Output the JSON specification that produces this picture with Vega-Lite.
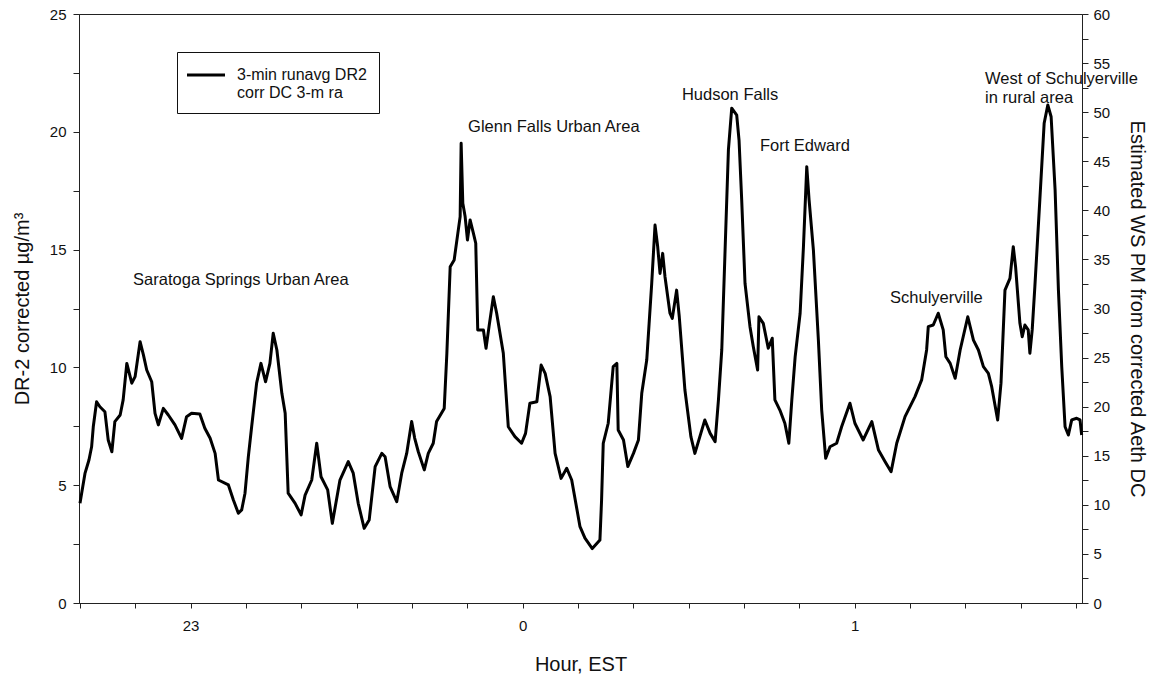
{
  "$schema": "https://vega.github.io/schema/vega-lite/v6.json",
  "width": 1003,
  "height": 589,
  "autosize": "none",
  "padding": {"left": 79, "top": 14, "right": 74, "bottom": 72},
  "background": "white",
  "config": {
    "font": "Liberation Sans",
    "view": {"stroke": "#222", "strokeWidth": 1},
    "axis": {
      "grid": false,
      "domainColor": "#222",
      "tickColor": "#222",
      "labelColor": "#111",
      "titleColor": "#111",
      "labelFont": "Liberation Sans",
      "titleFont": "Liberation Sans",
      "labelFontSize": 15,
      "titleFontSize": 20,
      "titleFontWeight": "normal",
      "labelOverlap": false,
      "labelFlush": false
    }
  },
  "resolve": {"scale": {"y": "independent"}},
  "layer": [
    {
      "layer": [
        {
          "data": {
            "name": "trace",
            "values": [
              {"hour": 22.667, "dr2": 4.23}, {"hour": 22.672, "dr2": 4.66}, {"hour": 22.682, "dr2": 5.5}, {"hour": 22.694, "dr2": 6.07},
              {"hour": 22.702, "dr2": 6.63}, {"hour": 22.707, "dr2": 7.48}, {"hour": 22.717, "dr2": 8.54}, {"hour": 22.727, "dr2": 8.33},
              {"hour": 22.742, "dr2": 8.12}, {"hour": 22.752, "dr2": 6.92}, {"hour": 22.763, "dr2": 6.42}, {"hour": 22.772, "dr2": 7.7},
              {"hour": 22.788, "dr2": 7.98}, {"hour": 22.797, "dr2": 8.62}, {"hour": 22.808, "dr2": 10.17}, {"hour": 22.823, "dr2": 9.33},
              {"hour": 22.833, "dr2": 9.61}, {"hour": 22.848, "dr2": 11.09}, {"hour": 22.858, "dr2": 10.53}, {"hour": 22.868, "dr2": 9.89},
              {"hour": 22.883, "dr2": 9.39}, {"hour": 22.893, "dr2": 8.05}, {"hour": 22.903, "dr2": 7.56}, {"hour": 22.918, "dr2": 8.26},
              {"hour": 22.933, "dr2": 7.98}, {"hour": 22.953, "dr2": 7.56}, {"hour": 22.973, "dr2": 6.99}, {"hour": 22.988, "dr2": 7.91},
              {"hour": 23.003, "dr2": 8.05}, {"hour": 23.028, "dr2": 8.02}, {"hour": 23.043, "dr2": 7.42}, {"hour": 23.059, "dr2": 6.99},
              {"hour": 23.074, "dr2": 6.35}, {"hour": 23.084, "dr2": 5.22}, {"hour": 23.114, "dr2": 5.01}, {"hour": 23.129, "dr2": 4.37},
              {"hour": 23.144, "dr2": 3.81}, {"hour": 23.154, "dr2": 3.95}, {"hour": 23.164, "dr2": 4.66}, {"hour": 23.174, "dr2": 6.2},
              {"hour": 23.184, "dr2": 7.48}, {"hour": 23.199, "dr2": 9.33}, {"hour": 23.212, "dr2": 10.17}, {"hour": 23.226, "dr2": 9.39},
              {"hour": 23.239, "dr2": 10.17}, {"hour": 23.249, "dr2": 11.45}, {"hour": 23.26, "dr2": 10.74}, {"hour": 23.275, "dr2": 8.9},
              {"hour": 23.285, "dr2": 8.05}, {"hour": 23.294, "dr2": 4.66}, {"hour": 23.315, "dr2": 4.23}, {"hour": 23.333, "dr2": 3.74},
              {"hour": 23.345, "dr2": 4.58}, {"hour": 23.365, "dr2": 5.22}, {"hour": 23.38, "dr2": 6.78}, {"hour": 23.393, "dr2": 5.36},
              {"hour": 23.413, "dr2": 4.8}, {"hour": 23.427, "dr2": 3.38}, {"hour": 23.45, "dr2": 5.22}, {"hour": 23.475, "dr2": 6.0},
              {"hour": 23.49, "dr2": 5.51}, {"hour": 23.505, "dr2": 4.23}, {"hour": 23.523, "dr2": 3.17}, {"hour": 23.538, "dr2": 3.52},
              {"hour": 23.556, "dr2": 5.79}, {"hour": 23.576, "dr2": 6.35}, {"hour": 23.586, "dr2": 6.21}, {"hour": 23.601, "dr2": 4.94},
              {"hour": 23.621, "dr2": 4.3}, {"hour": 23.636, "dr2": 5.51}, {"hour": 23.651, "dr2": 6.35}, {"hour": 23.666, "dr2": 7.7},
              {"hour": 23.675, "dr2": 7.0}, {"hour": 23.686, "dr2": 6.42}, {"hour": 23.704, "dr2": 5.65}, {"hour": 23.716, "dr2": 6.35},
              {"hour": 23.731, "dr2": 6.78}, {"hour": 23.741, "dr2": 7.7}, {"hour": 23.764, "dr2": 8.26}, {"hour": 23.772, "dr2": 10.6},
              {"hour": 23.782, "dr2": 14.27}, {"hour": 23.794, "dr2": 14.56}, {"hour": 23.805, "dr2": 15.69}, {"hour": 23.812, "dr2": 16.4},
              {"hour": 23.815, "dr2": 19.51}, {"hour": 23.82, "dr2": 16.97}, {"hour": 23.827, "dr2": 16.4}, {"hour": 23.834, "dr2": 15.41},
              {"hour": 23.842, "dr2": 16.26}, {"hour": 23.852, "dr2": 15.69}, {"hour": 23.859, "dr2": 15.27}, {"hour": 23.865, "dr2": 11.59},
              {"hour": 23.882, "dr2": 11.59}, {"hour": 23.89, "dr2": 10.81}, {"hour": 23.899, "dr2": 11.73}, {"hour": 23.912, "dr2": 13.0},
              {"hour": 23.922, "dr2": 12.3}, {"hour": 23.942, "dr2": 10.6}, {"hour": 23.957, "dr2": 7.48}, {"hour": 23.977, "dr2": 7.06},
              {"hour": 23.997, "dr2": 6.78}, {"hour": 24.009, "dr2": 7.2}, {"hour": 24.022, "dr2": 8.48}, {"hour": 24.043, "dr2": 8.54},
              {"hour": 24.056, "dr2": 10.1}, {"hour": 24.068, "dr2": 9.75}, {"hour": 24.083, "dr2": 8.76}, {"hour": 24.098, "dr2": 6.35},
              {"hour": 24.116, "dr2": 5.29}, {"hour": 24.133, "dr2": 5.72}, {"hour": 24.148, "dr2": 5.22}, {"hour": 24.173, "dr2": 3.24},
              {"hour": 24.188, "dr2": 2.75}, {"hour": 24.21, "dr2": 2.31}, {"hour": 24.233, "dr2": 2.67}, {"hour": 24.238, "dr2": 4.37},
              {"hour": 24.243, "dr2": 6.78}, {"hour": 24.258, "dr2": 7.63}, {"hour": 24.273, "dr2": 10.03}, {"hour": 24.284, "dr2": 10.17},
              {"hour": 24.288, "dr2": 7.34}, {"hour": 24.304, "dr2": 6.92}, {"hour": 24.317, "dr2": 5.79}, {"hour": 24.334, "dr2": 6.35},
              {"hour": 24.349, "dr2": 6.92}, {"hour": 24.359, "dr2": 8.9}, {"hour": 24.374, "dr2": 10.31}, {"hour": 24.389, "dr2": 13.57},
              {"hour": 24.399, "dr2": 16.04}, {"hour": 24.407, "dr2": 15.12}, {"hour": 24.414, "dr2": 13.99}, {"hour": 24.422, "dr2": 14.84},
              {"hour": 24.429, "dr2": 13.85}, {"hour": 24.444, "dr2": 12.3}, {"hour": 24.451, "dr2": 12.08}, {"hour": 24.464, "dr2": 13.28},
              {"hour": 24.472, "dr2": 12.15}, {"hour": 24.489, "dr2": 9.04}, {"hour": 24.507, "dr2": 7.06}, {"hour": 24.519, "dr2": 6.35},
              {"hour": 24.534, "dr2": 7.06}, {"hour": 24.549, "dr2": 7.77}, {"hour": 24.565, "dr2": 7.2}, {"hour": 24.58, "dr2": 6.85},
              {"hour": 24.59, "dr2": 8.62}, {"hour": 24.6, "dr2": 10.74}, {"hour": 24.61, "dr2": 14.98}, {"hour": 24.62, "dr2": 19.23},
              {"hour": 24.63, "dr2": 21.0}, {"hour": 24.645, "dr2": 20.71}, {"hour": 24.652, "dr2": 19.65}, {"hour": 24.66, "dr2": 17.11},
              {"hour": 24.67, "dr2": 13.57}, {"hour": 24.685, "dr2": 11.73}, {"hour": 24.695, "dr2": 10.88}, {"hour": 24.708, "dr2": 9.89},
              {"hour": 24.712, "dr2": 12.15}, {"hour": 24.725, "dr2": 11.87}, {"hour": 24.74, "dr2": 10.81}, {"hour": 24.752, "dr2": 11.24},
              {"hour": 24.76, "dr2": 8.62}, {"hour": 24.775, "dr2": 8.19}, {"hour": 24.79, "dr2": 7.63}, {"hour": 24.802, "dr2": 6.78},
              {"hour": 24.811, "dr2": 8.62}, {"hour": 24.821, "dr2": 10.45}, {"hour": 24.836, "dr2": 12.3}, {"hour": 24.846, "dr2": 15.12},
              {"hour": 24.856, "dr2": 18.52}, {"hour": 24.863, "dr2": 17.11}, {"hour": 24.876, "dr2": 14.98}, {"hour": 24.891, "dr2": 11.16},
              {"hour": 24.901, "dr2": 8.19}, {"hour": 24.913, "dr2": 6.14}, {"hour": 24.926, "dr2": 6.63}, {"hour": 24.946, "dr2": 6.78},
              {"hour": 24.961, "dr2": 7.48}, {"hour": 24.986, "dr2": 8.48}, {"hour": 25.001, "dr2": 7.63}, {"hour": 25.026, "dr2": 6.92},
              {"hour": 25.052, "dr2": 7.7}, {"hour": 25.072, "dr2": 6.49}, {"hour": 25.092, "dr2": 6.0}, {"hour": 25.11, "dr2": 5.57},
              {"hour": 25.127, "dr2": 6.78}, {"hour": 25.152, "dr2": 7.91}, {"hour": 25.182, "dr2": 8.76}, {"hour": 25.202, "dr2": 9.47},
              {"hour": 25.217, "dr2": 10.74}, {"hour": 25.222, "dr2": 11.73}, {"hour": 25.237, "dr2": 11.8}, {"hour": 25.252, "dr2": 12.3},
              {"hour": 25.267, "dr2": 11.59}, {"hour": 25.275, "dr2": 10.45}, {"hour": 25.288, "dr2": 10.17}, {"hour": 25.303, "dr2": 9.54},
              {"hour": 25.318, "dr2": 10.74}, {"hour": 25.341, "dr2": 12.15}, {"hour": 25.358, "dr2": 11.16}, {"hour": 25.373, "dr2": 10.74},
              {"hour": 25.388, "dr2": 10.03}, {"hour": 25.403, "dr2": 9.75}, {"hour": 25.413, "dr2": 9.18}, {"hour": 25.431, "dr2": 7.77},
              {"hour": 25.441, "dr2": 9.33}, {"hour": 25.453, "dr2": 13.28}, {"hour": 25.468, "dr2": 13.78}, {"hour": 25.478, "dr2": 15.12},
              {"hour": 25.485, "dr2": 14.27}, {"hour": 25.498, "dr2": 11.87}, {"hour": 25.505, "dr2": 11.3}, {"hour": 25.513, "dr2": 11.8},
              {"hour": 25.523, "dr2": 11.59}, {"hour": 25.528, "dr2": 10.6}, {"hour": 25.535, "dr2": 11.59}, {"hour": 25.543, "dr2": 13.43},
              {"hour": 25.558, "dr2": 17.11}, {"hour": 25.571, "dr2": 20.36}, {"hour": 25.582, "dr2": 21.14}, {"hour": 25.592, "dr2": 20.64},
              {"hour": 25.604, "dr2": 17.53}, {"hour": 25.614, "dr2": 13.28}, {"hour": 25.624, "dr2": 10.03}, {"hour": 25.634, "dr2": 7.48},
              {"hour": 25.644, "dr2": 7.13}, {"hour": 25.654, "dr2": 7.77}, {"hour": 25.669, "dr2": 7.84}, {"hour": 25.679, "dr2": 7.77},
              {"hour": 25.684, "dr2": 7.13}
            ]
          },
          "mark": {"type": "line", "strokeWidth": 3, "strokeJoin": "round", "interpolate": "linear"},
          "encoding": {
            "x": {
              "field": "hour",
              "type": "quantitative",
              "scale": {"domain": [22.664, 25.685], "nice": false, "zero": false},
              "axis": {
                "title": "Hour, EST",
                "titlePadding": 21,
                "values": [22.6667, 22.8333, 23, 23.1667, 23.3333, 23.5, 23.6667, 23.8333, 24, 24.1667, 24.3333, 24.5, 24.6667, 24.8333, 25, 25.1667, 25.3333, 25.5, 25.6667],
                "labelExpr": "abs(datum.value - round(datum.value)) < 0.001 ? '' + (round(datum.value) % 24) : ''",
                "tickSize": 5,
                "labelPadding": 10
              }
            },
            "y": {
              "field": "dr2",
              "type": "quantitative",
              "scale": {"domain": [0, 25], "nice": false},
              "axis": {
                "title": "DR-2 corrected µg/m³",
                "titlePadding": 17,
                "values": [0, 2.5, 5, 7.5, 10, 12.5, 15, 17.5, 20, 22.5, 25],
                "labelExpr": "datum.value % 5 === 0 ? datum.label : ''",
                "tickSize": 6,
                "labelPadding": 7
              }
            },
            "color": {
              "datum": "3-min runavg DR2",
              "type": "nominal",
              "scale": {"range": ["black"]},
              "legend": {
                "title": null,
                "orient": "none",
                "legendX": 98,
                "legendY": 38,
                "direction": "vertical",
                "fillColor": "white",
                "strokeColor": "#111",
                "padding": 12,
                "symbolType": "M-2,0H2",
                "symbolSize": 361,
                "symbolOffset": 6,
                "symbolStrokeWidth": 3,
                "symbolStrokeColor": "black",
                "labelFont": "Liberation Sans",
                "labelFontSize": 16,
                "labelColor": "#111",
                "labelLimit": 400,
                "labelOffset": 20,
                "labelExpr": "['3-min runavg DR2', 'corr DC 3-m ra']"
              }
            }
          }
        },
        {
          "data": {
            "name": "places",
            "values": [
              {"hour": 22.827, "dr2": 13.71, "place": "Saratoga Springs Urban Area"},
              {"hour": 23.836, "dr2": 20.2, "place": "Glenn Falls Urban Area"},
              {"hour": 24.48, "dr2": 21.56, "place": "Hudson Falls"},
              {"hour": 24.715, "dr2": 19.4, "place": "Fort Edward"},
              {"hour": 25.107, "dr2": 12.95, "place": "Schulyerville"},
              {"hour": 25.393, "dr2": 22.24, "place": "West of Schulyerville"},
              {"hour": 25.393, "dr2": 21.43, "place": "in rural area"}
            ]
          },
          "mark": {"type": "text", "align": "left", "baseline": "middle", "font": "Liberation Sans", "fontSize": 16.5, "color": "#111"},
          "encoding": {
            "x": {"field": "hour", "type": "quantitative"},
            "y": {"field": "dr2", "type": "quantitative"},
            "text": {"field": "place"}
          }
        }
      ]
    },
    {
      "data": {"name": "pm_axis", "values": [{"pm": 0}, {"pm": 60}]},
      "mark": {"type": "point", "opacity": 0},
      "encoding": {
        "y": {
          "field": "pm",
          "type": "quantitative",
          "scale": {"domain": [0, 60], "nice": false},
          "axis": {
            "orient": "right",
            "title": "Estimated WS PM from corrected Aeth DC",
            "titlePadding": 17,
            "values": [0, 2.5, 5, 7.5, 10, 12.5, 15, 17.5, 20, 22.5, 25, 27.5, 30, 32.5, 35, 37.5, 40, 42.5, 45, 47.5, 50, 52.5, 55, 57.5, 60],
            "labelExpr": "datum.value % 5 === 0 ? datum.label : ''",
            "tickSize": 6,
            "labelPadding": 5
          }
        }
      }
    }
  ]
}
